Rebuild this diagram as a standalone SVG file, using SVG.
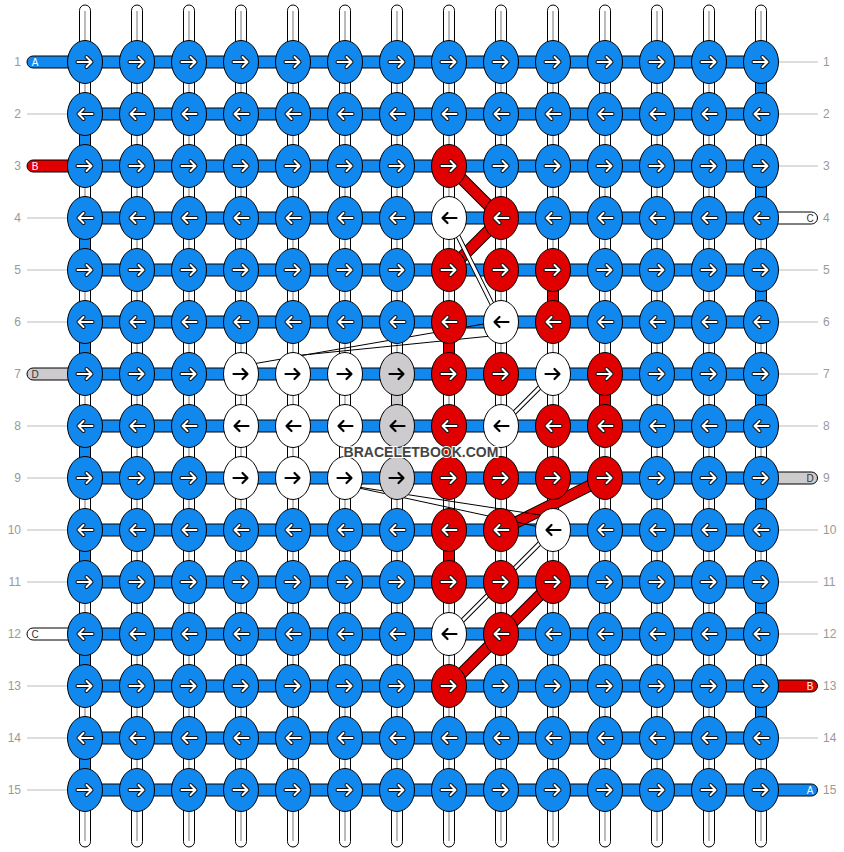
<svg xmlns="http://www.w3.org/2000/svg" xmlns:xlink="http://www.w3.org/1999/xlink" width="844" height="852" viewBox="0 0 844 852">
<style>
.b{fill:#1188ee;stroke:#000;stroke-width:1}
.r{fill:#e00000;stroke:#000;stroke-width:1}
.w{fill:#fff;stroke:#000;stroke-width:1}
.g{fill:#cdcbcd;stroke:#000;stroke-width:1}
.ao{fill:none;stroke:#111;stroke-width:4;stroke-linecap:round;stroke-linejoin:round}
.ai{fill:none;stroke:#fff;stroke-width:2;stroke-linecap:round;stroke-linejoin:round}
.ak{fill:none;stroke:#000;stroke-width:2.2;stroke-linecap:round;stroke-linejoin:round}
.vs{fill:#fff;stroke:#000;stroke-width:1}
.vc{stroke:#bbb;stroke-width:2}
.hb{fill:#1188ee;stroke:#000;stroke-width:1}
.vb{fill:#1188ee;stroke:#000;stroke-width:1}
.vr{fill:#e00000;stroke:#000;stroke-width:1}
.vg{fill:#cdcbcd;stroke:#000;stroke-width:1}
.gl{stroke:#bbb;stroke-width:1}
.num{font-family:"Liberation Sans",Arial,sans-serif;font-size:12px;fill:#999}
.tl{font-family:"Liberation Sans",Arial,sans-serif;font-size:10px;text-anchor:middle}
.ro{fill:none;stroke:#000;stroke-width:12;stroke-linecap:butt}
.ri{fill:none;stroke:#e00000;stroke-width:10;stroke-linecap:butt}
.wo{fill:none;stroke:#000;stroke-width:5}
.wi{fill:none;stroke:#fff;stroke-width:3}
.th{fill:none;stroke:#000;stroke-width:1}
</style>
<defs>
<path id="ah" d="M-7.5,0H6.5M1.5,-5L6.5,0L1.5,5"/>
<g id="R"><use href="#ah" class="ao"/><use href="#ah" class="ai"/></g>
<g id="L" transform="scale(-1,1)"><use href="#ah" class="ao"/><use href="#ah" class="ai"/></g>
<g id="Rk"><use href="#ah" class="ak"/></g>
<g id="Lk" transform="scale(-1,1)"><use href="#ah" class="ak"/></g>
</defs>
<rect width="844" height="852" fill="#fff"/>
<g id="connectors">
<g id="strings">
<rect class="vs" x="79.5" y="5" width="11" height="842" rx="5.5"/>
<rect class="vs" x="131.5" y="5" width="11" height="842" rx="5.5"/>
<rect class="vs" x="183.5" y="5" width="11" height="842" rx="5.5"/>
<rect class="vs" x="235.5" y="5" width="11" height="842" rx="5.5"/>
<rect class="vs" x="287.5" y="5" width="11" height="842" rx="5.5"/>
<rect class="vs" x="339.5" y="5" width="11" height="842" rx="5.5"/>
<rect class="vs" x="391.5" y="5" width="11" height="842" rx="5.5"/>
<rect class="vs" x="443.5" y="5" width="11" height="842" rx="5.5"/>
<rect class="vs" x="495.5" y="5" width="11" height="842" rx="5.5"/>
<rect class="vs" x="547.5" y="5" width="11" height="842" rx="5.5"/>
<rect class="vs" x="599.5" y="5" width="11" height="842" rx="5.5"/>
<rect class="vs" x="651.5" y="5" width="11" height="842" rx="5.5"/>
<rect class="vs" x="703.5" y="5" width="11" height="842" rx="5.5"/>
<rect class="vs" x="755.5" y="5" width="11" height="842" rx="5.5"/>
<path class="vc" d="M85,11V841M137,11V841M189,11V841M241,11V841M293,11V841M345,11V841M397,11V841M449,11V841M501,11V841M553,11V841M605,11V841M657,11V841M709,11V841M761,11V841"/>
</g>
<g id="turns">
<rect class="vb" x="755.5" y="62" width="11" height="52"/>
<rect class="vb" x="79.5" y="114" width="11" height="52"/>
<rect class="vb" x="755.5" y="166" width="11" height="52"/>
<rect class="vb" x="79.5" y="218" width="11" height="52"/>
<rect class="vb" x="755.5" y="270" width="11" height="52"/>
<rect class="vb" x="79.5" y="322" width="11" height="52"/>
<rect class="vb" x="755.5" y="374" width="11" height="52"/>
<rect class="vb" x="79.5" y="426" width="11" height="52"/>
<rect class="vb" x="755.5" y="478" width="11" height="52"/>
<rect class="vb" x="79.5" y="530" width="11" height="52"/>
<rect class="vb" x="755.5" y="582" width="11" height="52"/>
<rect class="vb" x="79.5" y="634" width="11" height="52"/>
<rect class="vb" x="755.5" y="686" width="11" height="52"/>
<rect class="vb" x="79.5" y="738" width="11" height="52"/>
<rect class="vr" x="547.5" y="270" width="11" height="52"/>
<rect class="vr" x="443.5" y="322" width="11" height="52"/>
<rect class="vr" x="599.5" y="374" width="11" height="52"/>
<rect class="vr" x="443.5" y="426" width="11" height="52"/>
<rect class="vr" x="443.5" y="530" width="11" height="52"/>
<rect class="vg" x="391.5" y="374" width="11" height="52"/>
<rect class="vg" x="391.5" y="426" width="11" height="52"/>
</g>
<g id="rows">
<rect class="hb" x="85" y="56" width="676" height="12"/>
<rect class="hb" x="85" y="108" width="676" height="12"/>
<rect class="hb" x="85" y="160" width="676" height="12"/>
<rect class="hb" x="85" y="212" width="676" height="12"/>
<rect class="hb" x="85" y="264" width="676" height="12"/>
<rect class="hb" x="85" y="316" width="676" height="12"/>
<rect class="hb" x="85" y="368" width="676" height="12"/>
<rect class="hb" x="85" y="420" width="676" height="12"/>
<rect class="hb" x="85" y="472" width="676" height="12"/>
<rect class="hb" x="85" y="524" width="676" height="12"/>
<rect class="hb" x="85" y="576" width="676" height="12"/>
<rect class="hb" x="85" y="628" width="676" height="12"/>
<rect class="hb" x="85" y="680" width="676" height="12"/>
<rect class="hb" x="85" y="732" width="676" height="12"/>
<rect class="hb" x="85" y="784" width="676" height="12"/>
</g>
<g id="tails">
<path d="M70,56H33A6,6 0 0 0 33,68H70Z" fill="#1188ee" stroke="#000"/>
<path d="M70,160H33A6,6 0 0 0 33,172H70Z" fill="#e00000" stroke="#000"/>
<path d="M70,368H33A6,6 0 0 0 33,380H70Z" fill="#cdcbcd" stroke="#000"/>
<path d="M70,628H33A6,6 0 0 0 33,640H70Z" fill="#fff" stroke="#000"/>
<path d="M776,212H811.5A6,6 0 0 1 811.5,224H776Z" fill="#fff" stroke="#000"/>
<path d="M776,472H811.5A6,6 0 0 1 811.5,484H776Z" fill="#cdcbcd" stroke="#000"/>
<path d="M776,680H811.5A6,6 0 0 1 811.5,692H776Z" fill="#e00000" stroke="#000"/>
<path d="M776,784H811.5A6,6 0 0 1 811.5,796H776Z" fill="#1188ee" stroke="#000"/>
<path class="gl" d="M27,114H67M27,218H67M27,270H67M27,322H67M27,426H67M27,478H67M27,530H67M27,582H67M27,686H67M27,738H67M27,790H67"/>
<path class="gl" d="M779,62H818M779,114H818M779,166H818M779,270H818M779,322H818M779,374H818M779,426H818M779,530H818M779,582H818M779,634H818M779,738H818"/>
</g>
<g id="paths">
<path class="ro" d="M449,166L501,218L449,270"/>
<path class="ri" d="M449,166L501,218L449,270"/>
<path class="ro" d="M605,478L501,530"/>
<path class="ri" d="M605,478L501,530"/>
<path class="ro" d="M553,582L449,686"/>
<path class="ri" d="M553,582L449,686"/>
<path class="wo" d="M449,218L501,322M553,374L501,426M553,530L449,634"/>
<path class="wi" d="M449,218L501,322M553,374L501,426M553,530L449,634"/>
<path class="th" d="M501,321L241,366M501,335L293,356M345,485L553,517M345,485L553,530"/>
</g>
</g>
<g id="knots">
<g id="k1-1" transform="translate(85 62)"><ellipse class="b" rx="17.5" ry="21.5"/><use href="#R"/></g>
<g id="k1-2" transform="translate(137 62)"><ellipse class="b" rx="17.5" ry="21.5"/><use href="#R"/></g>
<g id="k1-3" transform="translate(189 62)"><ellipse class="b" rx="17.5" ry="21.5"/><use href="#R"/></g>
<g id="k1-4" transform="translate(241 62)"><ellipse class="b" rx="17.5" ry="21.5"/><use href="#R"/></g>
<g id="k1-5" transform="translate(293 62)"><ellipse class="b" rx="17.5" ry="21.5"/><use href="#R"/></g>
<g id="k1-6" transform="translate(345 62)"><ellipse class="b" rx="17.5" ry="21.5"/><use href="#R"/></g>
<g id="k1-7" transform="translate(397 62)"><ellipse class="b" rx="17.5" ry="21.5"/><use href="#R"/></g>
<g id="k1-8" transform="translate(449 62)"><ellipse class="b" rx="17.5" ry="21.5"/><use href="#R"/></g>
<g id="k1-9" transform="translate(501 62)"><ellipse class="b" rx="17.5" ry="21.5"/><use href="#R"/></g>
<g id="k1-10" transform="translate(553 62)"><ellipse class="b" rx="17.5" ry="21.5"/><use href="#R"/></g>
<g id="k1-11" transform="translate(605 62)"><ellipse class="b" rx="17.5" ry="21.5"/><use href="#R"/></g>
<g id="k1-12" transform="translate(657 62)"><ellipse class="b" rx="17.5" ry="21.5"/><use href="#R"/></g>
<g id="k1-13" transform="translate(709 62)"><ellipse class="b" rx="17.5" ry="21.5"/><use href="#R"/></g>
<g id="k1-14" transform="translate(761 62)"><ellipse class="b" rx="17.5" ry="21.5"/><use href="#R"/></g>
<g id="k2-1" transform="translate(85 114)"><ellipse class="b" rx="17.5" ry="21.5"/><use href="#L"/></g>
<g id="k2-2" transform="translate(137 114)"><ellipse class="b" rx="17.5" ry="21.5"/><use href="#L"/></g>
<g id="k2-3" transform="translate(189 114)"><ellipse class="b" rx="17.5" ry="21.5"/><use href="#L"/></g>
<g id="k2-4" transform="translate(241 114)"><ellipse class="b" rx="17.5" ry="21.5"/><use href="#L"/></g>
<g id="k2-5" transform="translate(293 114)"><ellipse class="b" rx="17.5" ry="21.5"/><use href="#L"/></g>
<g id="k2-6" transform="translate(345 114)"><ellipse class="b" rx="17.5" ry="21.5"/><use href="#L"/></g>
<g id="k2-7" transform="translate(397 114)"><ellipse class="b" rx="17.5" ry="21.5"/><use href="#L"/></g>
<g id="k2-8" transform="translate(449 114)"><ellipse class="b" rx="17.5" ry="21.5"/><use href="#L"/></g>
<g id="k2-9" transform="translate(501 114)"><ellipse class="b" rx="17.5" ry="21.5"/><use href="#L"/></g>
<g id="k2-10" transform="translate(553 114)"><ellipse class="b" rx="17.5" ry="21.5"/><use href="#L"/></g>
<g id="k2-11" transform="translate(605 114)"><ellipse class="b" rx="17.5" ry="21.5"/><use href="#L"/></g>
<g id="k2-12" transform="translate(657 114)"><ellipse class="b" rx="17.5" ry="21.5"/><use href="#L"/></g>
<g id="k2-13" transform="translate(709 114)"><ellipse class="b" rx="17.5" ry="21.5"/><use href="#L"/></g>
<g id="k2-14" transform="translate(761 114)"><ellipse class="b" rx="17.5" ry="21.5"/><use href="#L"/></g>
<g id="k3-1" transform="translate(85 166)"><ellipse class="b" rx="17.5" ry="21.5"/><use href="#R"/></g>
<g id="k3-2" transform="translate(137 166)"><ellipse class="b" rx="17.5" ry="21.5"/><use href="#R"/></g>
<g id="k3-3" transform="translate(189 166)"><ellipse class="b" rx="17.5" ry="21.5"/><use href="#R"/></g>
<g id="k3-4" transform="translate(241 166)"><ellipse class="b" rx="17.5" ry="21.5"/><use href="#R"/></g>
<g id="k3-5" transform="translate(293 166)"><ellipse class="b" rx="17.5" ry="21.5"/><use href="#R"/></g>
<g id="k3-6" transform="translate(345 166)"><ellipse class="b" rx="17.5" ry="21.5"/><use href="#R"/></g>
<g id="k3-7" transform="translate(397 166)"><ellipse class="b" rx="17.5" ry="21.5"/><use href="#R"/></g>
<g id="k3-8" transform="translate(449 166)"><ellipse class="r" rx="17.5" ry="21.5"/><use href="#R"/></g>
<g id="k3-9" transform="translate(501 166)"><ellipse class="b" rx="17.5" ry="21.5"/><use href="#R"/></g>
<g id="k3-10" transform="translate(553 166)"><ellipse class="b" rx="17.5" ry="21.5"/><use href="#R"/></g>
<g id="k3-11" transform="translate(605 166)"><ellipse class="b" rx="17.5" ry="21.5"/><use href="#R"/></g>
<g id="k3-12" transform="translate(657 166)"><ellipse class="b" rx="17.5" ry="21.5"/><use href="#R"/></g>
<g id="k3-13" transform="translate(709 166)"><ellipse class="b" rx="17.5" ry="21.5"/><use href="#R"/></g>
<g id="k3-14" transform="translate(761 166)"><ellipse class="b" rx="17.5" ry="21.5"/><use href="#R"/></g>
<g id="k4-1" transform="translate(85 218)"><ellipse class="b" rx="17.5" ry="21.5"/><use href="#L"/></g>
<g id="k4-2" transform="translate(137 218)"><ellipse class="b" rx="17.5" ry="21.5"/><use href="#L"/></g>
<g id="k4-3" transform="translate(189 218)"><ellipse class="b" rx="17.5" ry="21.5"/><use href="#L"/></g>
<g id="k4-4" transform="translate(241 218)"><ellipse class="b" rx="17.5" ry="21.5"/><use href="#L"/></g>
<g id="k4-5" transform="translate(293 218)"><ellipse class="b" rx="17.5" ry="21.5"/><use href="#L"/></g>
<g id="k4-6" transform="translate(345 218)"><ellipse class="b" rx="17.5" ry="21.5"/><use href="#L"/></g>
<g id="k4-7" transform="translate(397 218)"><ellipse class="b" rx="17.5" ry="21.5"/><use href="#L"/></g>
<g id="k4-8" transform="translate(449 218)"><ellipse class="w" rx="17.5" ry="21.5"/><use href="#Lk"/></g>
<g id="k4-9" transform="translate(501 218)"><ellipse class="r" rx="17.5" ry="21.5"/><use href="#L"/></g>
<g id="k4-10" transform="translate(553 218)"><ellipse class="b" rx="17.5" ry="21.5"/><use href="#L"/></g>
<g id="k4-11" transform="translate(605 218)"><ellipse class="b" rx="17.5" ry="21.5"/><use href="#L"/></g>
<g id="k4-12" transform="translate(657 218)"><ellipse class="b" rx="17.5" ry="21.5"/><use href="#L"/></g>
<g id="k4-13" transform="translate(709 218)"><ellipse class="b" rx="17.5" ry="21.5"/><use href="#L"/></g>
<g id="k4-14" transform="translate(761 218)"><ellipse class="b" rx="17.5" ry="21.5"/><use href="#L"/></g>
<g id="k5-1" transform="translate(85 270)"><ellipse class="b" rx="17.5" ry="21.5"/><use href="#R"/></g>
<g id="k5-2" transform="translate(137 270)"><ellipse class="b" rx="17.5" ry="21.5"/><use href="#R"/></g>
<g id="k5-3" transform="translate(189 270)"><ellipse class="b" rx="17.5" ry="21.5"/><use href="#R"/></g>
<g id="k5-4" transform="translate(241 270)"><ellipse class="b" rx="17.5" ry="21.5"/><use href="#R"/></g>
<g id="k5-5" transform="translate(293 270)"><ellipse class="b" rx="17.5" ry="21.5"/><use href="#R"/></g>
<g id="k5-6" transform="translate(345 270)"><ellipse class="b" rx="17.5" ry="21.5"/><use href="#R"/></g>
<g id="k5-7" transform="translate(397 270)"><ellipse class="b" rx="17.5" ry="21.5"/><use href="#R"/></g>
<g id="k5-8" transform="translate(449 270)"><ellipse class="r" rx="17.5" ry="21.5"/><use href="#R"/></g>
<g id="k5-9" transform="translate(501 270)"><ellipse class="r" rx="17.5" ry="21.5"/><use href="#R"/></g>
<g id="k5-10" transform="translate(553 270)"><ellipse class="r" rx="17.5" ry="21.5"/><use href="#R"/></g>
<g id="k5-11" transform="translate(605 270)"><ellipse class="b" rx="17.5" ry="21.5"/><use href="#R"/></g>
<g id="k5-12" transform="translate(657 270)"><ellipse class="b" rx="17.5" ry="21.5"/><use href="#R"/></g>
<g id="k5-13" transform="translate(709 270)"><ellipse class="b" rx="17.5" ry="21.5"/><use href="#R"/></g>
<g id="k5-14" transform="translate(761 270)"><ellipse class="b" rx="17.5" ry="21.5"/><use href="#R"/></g>
<g id="k6-1" transform="translate(85 322)"><ellipse class="b" rx="17.5" ry="21.5"/><use href="#L"/></g>
<g id="k6-2" transform="translate(137 322)"><ellipse class="b" rx="17.5" ry="21.5"/><use href="#L"/></g>
<g id="k6-3" transform="translate(189 322)"><ellipse class="b" rx="17.5" ry="21.5"/><use href="#L"/></g>
<g id="k6-4" transform="translate(241 322)"><ellipse class="b" rx="17.5" ry="21.5"/><use href="#L"/></g>
<g id="k6-5" transform="translate(293 322)"><ellipse class="b" rx="17.5" ry="21.5"/><use href="#L"/></g>
<g id="k6-6" transform="translate(345 322)"><ellipse class="b" rx="17.5" ry="21.5"/><use href="#L"/></g>
<g id="k6-7" transform="translate(397 322)"><ellipse class="b" rx="17.5" ry="21.5"/><use href="#L"/></g>
<g id="k6-8" transform="translate(449 322)"><ellipse class="r" rx="17.5" ry="21.5"/><use href="#L"/></g>
<g id="k6-9" transform="translate(501 322)"><ellipse class="w" rx="17.5" ry="21.5"/><use href="#Lk"/></g>
<g id="k6-10" transform="translate(553 322)"><ellipse class="r" rx="17.5" ry="21.5"/><use href="#L"/></g>
<g id="k6-11" transform="translate(605 322)"><ellipse class="b" rx="17.5" ry="21.5"/><use href="#L"/></g>
<g id="k6-12" transform="translate(657 322)"><ellipse class="b" rx="17.5" ry="21.5"/><use href="#L"/></g>
<g id="k6-13" transform="translate(709 322)"><ellipse class="b" rx="17.5" ry="21.5"/><use href="#L"/></g>
<g id="k6-14" transform="translate(761 322)"><ellipse class="b" rx="17.5" ry="21.5"/><use href="#L"/></g>
<g id="k7-1" transform="translate(85 374)"><ellipse class="b" rx="17.5" ry="21.5"/><use href="#R"/></g>
<g id="k7-2" transform="translate(137 374)"><ellipse class="b" rx="17.5" ry="21.5"/><use href="#R"/></g>
<g id="k7-3" transform="translate(189 374)"><ellipse class="b" rx="17.5" ry="21.5"/><use href="#R"/></g>
<g id="k7-4" transform="translate(241 374)"><ellipse class="w" rx="17.5" ry="21.5"/><use href="#Rk"/></g>
<g id="k7-5" transform="translate(293 374)"><ellipse class="w" rx="17.5" ry="21.5"/><use href="#Rk"/></g>
<g id="k7-6" transform="translate(345 374)"><ellipse class="w" rx="17.5" ry="21.5"/><use href="#Rk"/></g>
<g id="k7-7" transform="translate(397 374)"><ellipse class="g" rx="17.5" ry="21.5"/><use href="#Rk"/></g>
<g id="k7-8" transform="translate(449 374)"><ellipse class="r" rx="17.5" ry="21.5"/><use href="#R"/></g>
<g id="k7-9" transform="translate(501 374)"><ellipse class="r" rx="17.5" ry="21.5"/><use href="#R"/></g>
<g id="k7-10" transform="translate(553 374)"><ellipse class="w" rx="17.5" ry="21.5"/><use href="#Rk"/></g>
<g id="k7-11" transform="translate(605 374)"><ellipse class="r" rx="17.5" ry="21.5"/><use href="#R"/></g>
<g id="k7-12" transform="translate(657 374)"><ellipse class="b" rx="17.5" ry="21.5"/><use href="#R"/></g>
<g id="k7-13" transform="translate(709 374)"><ellipse class="b" rx="17.5" ry="21.5"/><use href="#R"/></g>
<g id="k7-14" transform="translate(761 374)"><ellipse class="b" rx="17.5" ry="21.5"/><use href="#R"/></g>
<g id="k8-1" transform="translate(85 426)"><ellipse class="b" rx="17.5" ry="21.5"/><use href="#L"/></g>
<g id="k8-2" transform="translate(137 426)"><ellipse class="b" rx="17.5" ry="21.5"/><use href="#L"/></g>
<g id="k8-3" transform="translate(189 426)"><ellipse class="b" rx="17.5" ry="21.5"/><use href="#L"/></g>
<g id="k8-4" transform="translate(241 426)"><ellipse class="w" rx="17.5" ry="21.5"/><use href="#Lk"/></g>
<g id="k8-5" transform="translate(293 426)"><ellipse class="w" rx="17.5" ry="21.5"/><use href="#Lk"/></g>
<g id="k8-6" transform="translate(345 426)"><ellipse class="w" rx="17.5" ry="21.5"/><use href="#Lk"/></g>
<g id="k8-7" transform="translate(397 426)"><ellipse class="g" rx="17.5" ry="21.5"/><use href="#Lk"/></g>
<g id="k8-8" transform="translate(449 426)"><ellipse class="r" rx="17.5" ry="21.5"/><use href="#L"/></g>
<g id="k8-9" transform="translate(501 426)"><ellipse class="w" rx="17.5" ry="21.5"/><use href="#Lk"/></g>
<g id="k8-10" transform="translate(553 426)"><ellipse class="r" rx="17.5" ry="21.5"/><use href="#L"/></g>
<g id="k8-11" transform="translate(605 426)"><ellipse class="r" rx="17.5" ry="21.5"/><use href="#L"/></g>
<g id="k8-12" transform="translate(657 426)"><ellipse class="b" rx="17.5" ry="21.5"/><use href="#L"/></g>
<g id="k8-13" transform="translate(709 426)"><ellipse class="b" rx="17.5" ry="21.5"/><use href="#L"/></g>
<g id="k8-14" transform="translate(761 426)"><ellipse class="b" rx="17.5" ry="21.5"/><use href="#L"/></g>
<g id="k9-1" transform="translate(85 478)"><ellipse class="b" rx="17.5" ry="21.5"/><use href="#R"/></g>
<g id="k9-2" transform="translate(137 478)"><ellipse class="b" rx="17.5" ry="21.5"/><use href="#R"/></g>
<g id="k9-3" transform="translate(189 478)"><ellipse class="b" rx="17.5" ry="21.5"/><use href="#R"/></g>
<g id="k9-4" transform="translate(241 478)"><ellipse class="w" rx="17.5" ry="21.5"/><use href="#Rk"/></g>
<g id="k9-5" transform="translate(293 478)"><ellipse class="w" rx="17.5" ry="21.5"/><use href="#Rk"/></g>
<g id="k9-6" transform="translate(345 478)"><ellipse class="w" rx="17.5" ry="21.5"/><use href="#Rk"/></g>
<g id="k9-7" transform="translate(397 478)"><ellipse class="g" rx="17.5" ry="21.5"/><use href="#Rk"/></g>
<g id="k9-8" transform="translate(449 478)"><ellipse class="r" rx="17.5" ry="21.5"/><use href="#R"/></g>
<g id="k9-9" transform="translate(501 478)"><ellipse class="r" rx="17.5" ry="21.5"/><use href="#R"/></g>
<g id="k9-10" transform="translate(553 478)"><ellipse class="r" rx="17.5" ry="21.5"/><use href="#R"/></g>
<g id="k9-11" transform="translate(605 478)"><ellipse class="r" rx="17.5" ry="21.5"/><use href="#R"/></g>
<g id="k9-12" transform="translate(657 478)"><ellipse class="b" rx="17.5" ry="21.5"/><use href="#R"/></g>
<g id="k9-13" transform="translate(709 478)"><ellipse class="b" rx="17.5" ry="21.5"/><use href="#R"/></g>
<g id="k9-14" transform="translate(761 478)"><ellipse class="b" rx="17.5" ry="21.5"/><use href="#R"/></g>
<g id="k10-1" transform="translate(85 530)"><ellipse class="b" rx="17.5" ry="21.5"/><use href="#L"/></g>
<g id="k10-2" transform="translate(137 530)"><ellipse class="b" rx="17.5" ry="21.5"/><use href="#L"/></g>
<g id="k10-3" transform="translate(189 530)"><ellipse class="b" rx="17.5" ry="21.5"/><use href="#L"/></g>
<g id="k10-4" transform="translate(241 530)"><ellipse class="b" rx="17.5" ry="21.5"/><use href="#L"/></g>
<g id="k10-5" transform="translate(293 530)"><ellipse class="b" rx="17.5" ry="21.5"/><use href="#L"/></g>
<g id="k10-6" transform="translate(345 530)"><ellipse class="b" rx="17.5" ry="21.5"/><use href="#L"/></g>
<g id="k10-7" transform="translate(397 530)"><ellipse class="b" rx="17.5" ry="21.5"/><use href="#L"/></g>
<g id="k10-8" transform="translate(449 530)"><ellipse class="r" rx="17.5" ry="21.5"/><use href="#L"/></g>
<g id="k10-9" transform="translate(501 530)"><ellipse class="r" rx="17.5" ry="21.5"/><use href="#L"/></g>
<g id="k10-10" transform="translate(553 530)"><ellipse class="w" rx="17.5" ry="21.5"/><use href="#Lk"/></g>
<g id="k10-11" transform="translate(605 530)"><ellipse class="b" rx="17.5" ry="21.5"/><use href="#L"/></g>
<g id="k10-12" transform="translate(657 530)"><ellipse class="b" rx="17.5" ry="21.5"/><use href="#L"/></g>
<g id="k10-13" transform="translate(709 530)"><ellipse class="b" rx="17.5" ry="21.5"/><use href="#L"/></g>
<g id="k10-14" transform="translate(761 530)"><ellipse class="b" rx="17.5" ry="21.5"/><use href="#L"/></g>
<g id="k11-1" transform="translate(85 582)"><ellipse class="b" rx="17.5" ry="21.5"/><use href="#R"/></g>
<g id="k11-2" transform="translate(137 582)"><ellipse class="b" rx="17.5" ry="21.5"/><use href="#R"/></g>
<g id="k11-3" transform="translate(189 582)"><ellipse class="b" rx="17.5" ry="21.5"/><use href="#R"/></g>
<g id="k11-4" transform="translate(241 582)"><ellipse class="b" rx="17.5" ry="21.5"/><use href="#R"/></g>
<g id="k11-5" transform="translate(293 582)"><ellipse class="b" rx="17.5" ry="21.5"/><use href="#R"/></g>
<g id="k11-6" transform="translate(345 582)"><ellipse class="b" rx="17.5" ry="21.5"/><use href="#R"/></g>
<g id="k11-7" transform="translate(397 582)"><ellipse class="b" rx="17.5" ry="21.5"/><use href="#R"/></g>
<g id="k11-8" transform="translate(449 582)"><ellipse class="r" rx="17.5" ry="21.5"/><use href="#R"/></g>
<g id="k11-9" transform="translate(501 582)"><ellipse class="r" rx="17.5" ry="21.5"/><use href="#R"/></g>
<g id="k11-10" transform="translate(553 582)"><ellipse class="r" rx="17.5" ry="21.5"/><use href="#R"/></g>
<g id="k11-11" transform="translate(605 582)"><ellipse class="b" rx="17.5" ry="21.5"/><use href="#R"/></g>
<g id="k11-12" transform="translate(657 582)"><ellipse class="b" rx="17.5" ry="21.5"/><use href="#R"/></g>
<g id="k11-13" transform="translate(709 582)"><ellipse class="b" rx="17.5" ry="21.5"/><use href="#R"/></g>
<g id="k11-14" transform="translate(761 582)"><ellipse class="b" rx="17.5" ry="21.5"/><use href="#R"/></g>
<g id="k12-1" transform="translate(85 634)"><ellipse class="b" rx="17.5" ry="21.5"/><use href="#L"/></g>
<g id="k12-2" transform="translate(137 634)"><ellipse class="b" rx="17.5" ry="21.5"/><use href="#L"/></g>
<g id="k12-3" transform="translate(189 634)"><ellipse class="b" rx="17.5" ry="21.5"/><use href="#L"/></g>
<g id="k12-4" transform="translate(241 634)"><ellipse class="b" rx="17.5" ry="21.5"/><use href="#L"/></g>
<g id="k12-5" transform="translate(293 634)"><ellipse class="b" rx="17.5" ry="21.5"/><use href="#L"/></g>
<g id="k12-6" transform="translate(345 634)"><ellipse class="b" rx="17.5" ry="21.5"/><use href="#L"/></g>
<g id="k12-7" transform="translate(397 634)"><ellipse class="b" rx="17.5" ry="21.5"/><use href="#L"/></g>
<g id="k12-8" transform="translate(449 634)"><ellipse class="w" rx="17.5" ry="21.5"/><use href="#Lk"/></g>
<g id="k12-9" transform="translate(501 634)"><ellipse class="r" rx="17.5" ry="21.5"/><use href="#L"/></g>
<g id="k12-10" transform="translate(553 634)"><ellipse class="b" rx="17.5" ry="21.5"/><use href="#L"/></g>
<g id="k12-11" transform="translate(605 634)"><ellipse class="b" rx="17.5" ry="21.5"/><use href="#L"/></g>
<g id="k12-12" transform="translate(657 634)"><ellipse class="b" rx="17.5" ry="21.5"/><use href="#L"/></g>
<g id="k12-13" transform="translate(709 634)"><ellipse class="b" rx="17.5" ry="21.5"/><use href="#L"/></g>
<g id="k12-14" transform="translate(761 634)"><ellipse class="b" rx="17.5" ry="21.5"/><use href="#L"/></g>
<g id="k13-1" transform="translate(85 686)"><ellipse class="b" rx="17.5" ry="21.5"/><use href="#R"/></g>
<g id="k13-2" transform="translate(137 686)"><ellipse class="b" rx="17.5" ry="21.5"/><use href="#R"/></g>
<g id="k13-3" transform="translate(189 686)"><ellipse class="b" rx="17.5" ry="21.5"/><use href="#R"/></g>
<g id="k13-4" transform="translate(241 686)"><ellipse class="b" rx="17.5" ry="21.5"/><use href="#R"/></g>
<g id="k13-5" transform="translate(293 686)"><ellipse class="b" rx="17.5" ry="21.5"/><use href="#R"/></g>
<g id="k13-6" transform="translate(345 686)"><ellipse class="b" rx="17.5" ry="21.5"/><use href="#R"/></g>
<g id="k13-7" transform="translate(397 686)"><ellipse class="b" rx="17.5" ry="21.5"/><use href="#R"/></g>
<g id="k13-8" transform="translate(449 686)"><ellipse class="r" rx="17.5" ry="21.5"/><use href="#R"/></g>
<g id="k13-9" transform="translate(501 686)"><ellipse class="b" rx="17.5" ry="21.5"/><use href="#R"/></g>
<g id="k13-10" transform="translate(553 686)"><ellipse class="b" rx="17.5" ry="21.5"/><use href="#R"/></g>
<g id="k13-11" transform="translate(605 686)"><ellipse class="b" rx="17.5" ry="21.5"/><use href="#R"/></g>
<g id="k13-12" transform="translate(657 686)"><ellipse class="b" rx="17.5" ry="21.5"/><use href="#R"/></g>
<g id="k13-13" transform="translate(709 686)"><ellipse class="b" rx="17.5" ry="21.5"/><use href="#R"/></g>
<g id="k13-14" transform="translate(761 686)"><ellipse class="b" rx="17.5" ry="21.5"/><use href="#R"/></g>
<g id="k14-1" transform="translate(85 738)"><ellipse class="b" rx="17.5" ry="21.5"/><use href="#L"/></g>
<g id="k14-2" transform="translate(137 738)"><ellipse class="b" rx="17.5" ry="21.5"/><use href="#L"/></g>
<g id="k14-3" transform="translate(189 738)"><ellipse class="b" rx="17.5" ry="21.5"/><use href="#L"/></g>
<g id="k14-4" transform="translate(241 738)"><ellipse class="b" rx="17.5" ry="21.5"/><use href="#L"/></g>
<g id="k14-5" transform="translate(293 738)"><ellipse class="b" rx="17.5" ry="21.5"/><use href="#L"/></g>
<g id="k14-6" transform="translate(345 738)"><ellipse class="b" rx="17.5" ry="21.5"/><use href="#L"/></g>
<g id="k14-7" transform="translate(397 738)"><ellipse class="b" rx="17.5" ry="21.5"/><use href="#L"/></g>
<g id="k14-8" transform="translate(449 738)"><ellipse class="b" rx="17.5" ry="21.5"/><use href="#L"/></g>
<g id="k14-9" transform="translate(501 738)"><ellipse class="b" rx="17.5" ry="21.5"/><use href="#L"/></g>
<g id="k14-10" transform="translate(553 738)"><ellipse class="b" rx="17.5" ry="21.5"/><use href="#L"/></g>
<g id="k14-11" transform="translate(605 738)"><ellipse class="b" rx="17.5" ry="21.5"/><use href="#L"/></g>
<g id="k14-12" transform="translate(657 738)"><ellipse class="b" rx="17.5" ry="21.5"/><use href="#L"/></g>
<g id="k14-13" transform="translate(709 738)"><ellipse class="b" rx="17.5" ry="21.5"/><use href="#L"/></g>
<g id="k14-14" transform="translate(761 738)"><ellipse class="b" rx="17.5" ry="21.5"/><use href="#L"/></g>
<g id="k15-1" transform="translate(85 790)"><ellipse class="b" rx="17.5" ry="21.5"/><use href="#R"/></g>
<g id="k15-2" transform="translate(137 790)"><ellipse class="b" rx="17.5" ry="21.5"/><use href="#R"/></g>
<g id="k15-3" transform="translate(189 790)"><ellipse class="b" rx="17.5" ry="21.5"/><use href="#R"/></g>
<g id="k15-4" transform="translate(241 790)"><ellipse class="b" rx="17.5" ry="21.5"/><use href="#R"/></g>
<g id="k15-5" transform="translate(293 790)"><ellipse class="b" rx="17.5" ry="21.5"/><use href="#R"/></g>
<g id="k15-6" transform="translate(345 790)"><ellipse class="b" rx="17.5" ry="21.5"/><use href="#R"/></g>
<g id="k15-7" transform="translate(397 790)"><ellipse class="b" rx="17.5" ry="21.5"/><use href="#R"/></g>
<g id="k15-8" transform="translate(449 790)"><ellipse class="b" rx="17.5" ry="21.5"/><use href="#R"/></g>
<g id="k15-9" transform="translate(501 790)"><ellipse class="b" rx="17.5" ry="21.5"/><use href="#R"/></g>
<g id="k15-10" transform="translate(553 790)"><ellipse class="b" rx="17.5" ry="21.5"/><use href="#R"/></g>
<g id="k15-11" transform="translate(605 790)"><ellipse class="b" rx="17.5" ry="21.5"/><use href="#R"/></g>
<g id="k15-12" transform="translate(657 790)"><ellipse class="b" rx="17.5" ry="21.5"/><use href="#R"/></g>
<g id="k15-13" transform="translate(709 790)"><ellipse class="b" rx="17.5" ry="21.5"/><use href="#R"/></g>
<g id="k15-14" transform="translate(761 790)"><ellipse class="b" rx="17.5" ry="21.5"/><use href="#R"/></g>
</g>
<g id="labels">
<text class="tl" x="35" y="65.5" fill="#fff">A</text>
<text class="tl" x="35" y="169.5" fill="#fff">B</text>
<text class="tl" x="35" y="377.5" fill="#333">D</text>
<text class="tl" x="35" y="637.5" fill="#333">C</text>
<text class="tl" x="810" y="221.5" fill="#333">C</text>
<text class="tl" x="810" y="481.5" fill="#333">D</text>
<text class="tl" x="810" y="689.5" fill="#fff">B</text>
<text class="tl" x="810" y="793.5" fill="#fff">A</text>
<g class="num" text-anchor="end">
<text x="21" y="66">1</text><text x="21" y="118">2</text><text x="21" y="170">3</text><text x="21" y="222">4</text><text x="21" y="274">5</text><text x="21" y="326">6</text><text x="21" y="378">7</text><text x="21" y="430">8</text><text x="21" y="482">9</text><text x="21" y="534">10</text><text x="21" y="586">11</text><text x="21" y="638">12</text><text x="21" y="690">13</text><text x="21" y="742">14</text><text x="21" y="794">15</text>
</g>
<g class="num">
<text x="823" y="66">1</text><text x="823" y="118">2</text><text x="823" y="170">3</text><text x="823" y="222">4</text><text x="823" y="274">5</text><text x="823" y="326">6</text><text x="823" y="378">7</text><text x="823" y="430">8</text><text x="823" y="482">9</text><text x="823" y="534">10</text><text x="823" y="586">11</text><text x="823" y="638">12</text><text x="823" y="690">13</text><text x="823" y="742">14</text><text x="823" y="794">15</text>
</g>
<text x="421" y="457" font-family="Liberation Sans, Arial, sans-serif" font-weight="bold" font-size="14" fill="#444" stroke="#fff" stroke-width="2" paint-order="stroke" text-anchor="middle">BRACELETBOOK.COM</text>
</g>
</svg>
